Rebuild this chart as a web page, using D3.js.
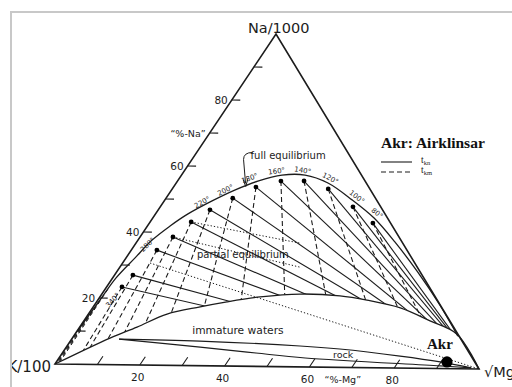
<!DOCTYPE html>
<html>
<head>
<meta charset="utf-8">
<script src="https://cdn.jsdelivr.net/npm/d3@7"></script>
<style>
  html, body { margin: 0; padding: 0; background: #fff; }
  svg { display: block; }
</style>
</head>
<body>
<svg id="chart" width="512" height="387"></svg>
<script>
// Na–K–Mg ternary diagram (Na/1000, K/100, √Mg) with the Airklinsar water.
// Every point is given as %Na and %Mg; %K = 100 − %Na − %Mg.

// full-equilibrium points (°C)
const eqTemps = [340, 320, 280, 260, 240, 220, 200, 180, 160, 140, 120, 100, 80];
const eqNa    = [23.4, 27.0, 34.6, 38.6, 43.2, 46.9, 50.5, 53.9, 55.8, 55.9, 53.6, 48.3, 43.5];
const eqMg    = [3.6, 4.3, 6.0, 7.7, 9.6, 12.1, 15.6, 19.3, 24.2, 29.6, 36.5, 45.1, 52.3];
const labelledTemps = [340, 280, 220, 200, 180, 160, 140, 120, 100, 80];

// full-equilibrium line
const fullEqNa = [10.3, 19.4, 26.1, 32.2, 37.6, 41.9, 45.6, 49.6, 53.0, 55.7, 57.6, 57.7, 55.4, 50.4, 45.0, 37.9, 28.9, 19.1, 9.8];
const fullEqMg = [0.1, 0.5, 0.8, 2.1, 3.3, 5.3, 7.6, 11.2, 14.9, 18.8, 23.5, 28.9, 35.5, 43.8, 51.8, 60.4, 70.5, 80.8, 89.9];

// upper limit of immature waters (partial-equilibrium boundary)
const immatureNa = [0, 8.0, 11.4, 15.4, 17.7, 19.3, 20.9, 21.9, 21.5, 20.3, 18.1, 14.3, 10.4, 0];
const immatureMg = [0, 8.8, 13.4, 18.4, 25.0, 30.5, 37.5, 46.4, 56.0, 63.0, 72.0, 81.0, 89.4, 100];

// rock dissolution field
const rockUpperNa = [7.7, 7.4, 6.3, 5.5, 3.6, 2.0, 0.3];
const rockUpperMg = [11.1, 30.3, 54.5, 64.3, 79.5, 89.8, 98.0];
const rockLowerNa = [7.7, 5.6, 4.0, 2.7, 0.8, 0.3];
const rockLowerMg = [11.1, 31.3, 45.3, 57.6, 90.4, 98.0];

// t_km isotherms above the last equilibrium point
const hotKmNa = [12.7, 16.1, 19.4, 22.7];
const hotKmMg = [0.2, 0.35, 0.5, 0.65];

// dotted guide lines: [start, end] as [%Na, %Mg]
const guideLines = [
  [[43.2, 9.6], [37.2, 38.4]],
  [[38.6, 7.7], [30.0, 42.1]],
  [[30.7, 6.4], [0, 100]]
];

// sample
const sampleName = "Akr";
const sampleNa = 2.0;
const sampleMg = 91.4;

// axes
const naTicks = [10, 20, 30, 40, 50, 60, 70, 80, 90];
const naTickLabels = [20, 40, 60, 80];
const mgTicks = [10, 20, 30, 40, 50, 60, 70, 80, 90];
const mgTickLabels = [20, 40, 60, 80];

// ---------------------------------------------------------------
const cornerK  = [55, 364];
const cornerMg = [479, 369];
const cornerNa = [276, 34];

const sMg = d3.scaleLinear().domain([0, 100]).range([0, 1]);
const sNa = d3.scaleLinear().domain([0, 100]).range([0, 1]);

function proj(na, mg) {
  const a = sMg(mg), b = sNa(na);
  return [
    cornerK[0] + a * (cornerMg[0] - cornerK[0]) + b * (cornerNa[0] - cornerK[0]),
    cornerK[1] + a * (cornerMg[1] - cornerK[1]) + b * (cornerNa[1] - cornerK[1])
  ];
}
const pts = (na, mg) => na.map((v, i) => proj(v, mg[i]));

const ink = "#1c1c1c";
const sans = "'DejaVu Sans', sans-serif";
const serif = "'Liberation Serif', 'Times New Roman', serif";

const svg = d3.select("#chart");
const defs = svg.append("defs");

defs.append("clipPath").attr("id", "frameClip")
  .append("rect").attr("x", 12).attr("y", 13).attr("width", 500).attr("height", 374);

const smooth = d3.line().curve(d3.curveCatmullRom.alpha(0.5));
const straight = d3.line();

const immaturePts = pts(immatureNa, immatureMg);
defs.append("clipPath").attr("id", "fieldClip")
  .append("path")
  .attr("d", smooth(immaturePts) + "L" + proj(100, 0).join(",") + "Z");

// scan border
svg.append("path")
  .attr("d", "M11,387V12H512")
  .attr("fill", "none").attr("stroke", "#c8c8c8").attr("stroke-width", 2);

const root = svg.append("g").attr("clip-path", "url(#frameClip)");

// triangle
root.append("path")
  .attr("d", straight([proj(0, 0), proj(100, 0), proj(0, 100)]) + "Z")
  .attr("fill", "none").attr("stroke", ink).attr("stroke-width", 1.6)
  .attr("stroke-linejoin", "miter");

// ticks
root.append("g").selectAll("path").data(naTicks).join("path")
  .attr("d", t => straight([proj(t, 0), proj(t, 2)]))
  .attr("stroke", ink).attr("stroke-width", 1.1);
root.append("g").selectAll("path").data(mgTicks).join("path")
  .attr("d", t => straight([proj(0, t), proj(2.5, t)]))
  .attr("stroke", ink).attr("stroke-width", 1.1);

root.append("g").selectAll("text").data(naTickLabels).join("text")
  .attr("x", t => proj(t, 0)[0] - 4)
  .attr("y", t => proj(t, 0)[1] + 4)
  .attr("text-anchor", "end")
  .attr("font-family", sans).attr("font-size", 10.5).attr("fill", ink)
  .text(t => t);
root.append("text")
  .attr("x", proj(70, 0)[0] - 4).attr("y", proj(70, 0)[1] + 3.5)
  .attr("text-anchor", "end")
  .attr("font-family", sans).attr("font-size", 9.5).attr("fill", ink)
  .text("\u201c%-Na\u201d");

root.append("g").selectAll("text").data(mgTickLabels).join("text")
  .attr("x", t => proj(0, t)[0] - 2)
  .attr("y", t => proj(0, t)[1] + 15.5)
  .attr("text-anchor", "middle")
  .attr("font-family", sans).attr("font-size", 10.5).attr("fill", ink)
  .text(t => t);
root.append("text")
  .attr("x", proj(0, 70)[0] - 9).attr("y", proj(0, 70)[1] + 15)
  .attr("text-anchor", "middle")
  .attr("font-family", sans).attr("font-size", 9.5).attr("fill", ink)
  .text("\u201c%-Mg\u201d");

// corner labels
root.append("text")
  .attr("x", proj(100, 0)[0] - 28).attr("y", proj(100, 0)[1] - 1)
  .attr("font-family", sans).attr("font-size", 14.5).attr("fill", ink)
  .text("Na/1000");
root.append("text")
  .attr("x", proj(0, 0)[0] - 4).attr("y", proj(0, 0)[1] + 8)
  .attr("text-anchor", "end")
  .attr("font-family", sans).attr("font-size", 15).attr("fill", ink)
  .text("K/100");
root.append("text")
  .attr("x", proj(0, 100)[0] + 5).attr("y", proj(0, 100)[1] + 8)
  .attr("font-family", sans).attr("font-size", 14.5).attr("fill", ink)
  .text("\u221AMg");

// isotherm grid
const eqPts = pts(eqNa, eqMg);
const grid = root.append("g").attr("clip-path", "url(#fieldClip)");

// t_kn: lines of constant Na/K, radiating from the √Mg corner
grid.append("g").selectAll("path").data(eqNa).join("path")
  .attr("d", (na, i) => straight([proj(na, eqMg[i]), proj(0, 100)]))
  .attr("fill", "none").attr("stroke", ink).attr("stroke-width", 1.1);

// t_km: lines of constant K/√Mg, radiating from the Na corner
const kmEnd = (na, mg) => proj(0, 100 * mg / (100 - na));
grid.append("g").selectAll("path").data(eqNa).join("path")
  .attr("d", (na, i) => straight([proj(na, eqMg[i]), kmEnd(na, eqMg[i])]))
  .attr("fill", "none").attr("stroke", ink).attr("stroke-width", 1.1)
  .attr("stroke-dasharray", "5,3");
grid.append("g").selectAll("path").data(hotKmNa).join("path")
  .attr("d", (na, i) => straight([proj(na, hotKmMg[i]), kmEnd(na, hotKmMg[i])]))
  .attr("fill", "none").attr("stroke", ink).attr("stroke-width", 1)
  .attr("stroke-dasharray", "4,3");

// dotted guides
root.append("g").selectAll("path").data(guideLines).join("path")
  .attr("d", g => straight(g.map(p => proj(p[0], p[1]))))
  .attr("fill", "none").attr("stroke", ink).attr("stroke-width", 1)
  .attr("stroke-dasharray", "1.3,2");

// full equilibrium line
root.append("path")
  .attr("d", smooth(pts(fullEqNa, fullEqMg)))
  .attr("fill", "none").attr("stroke", ink).attr("stroke-width", 1.3);

// immature-water boundary
root.append("path")
  .attr("d", smooth(immaturePts))
  .attr("fill", "none").attr("stroke", ink).attr("stroke-width", 1.3);

// rock field
root.append("path")
  .attr("d", smooth(pts(rockUpperNa, rockUpperMg)))
  .attr("fill", "none").attr("stroke", ink).attr("stroke-width", 1.1);
root.append("path")
  .attr("d", smooth(pts(rockLowerNa, rockLowerMg)))
  .attr("fill", "none").attr("stroke", ink).attr("stroke-width", 1.1);

// equilibrium points
root.append("g").selectAll("circle").data(eqPts).join("circle")
  .attr("cx", p => p[0]).attr("cy", p => p[1]).attr("r", 2.4).attr("fill", "#000");

// temperature labels, set along the curve just outside it
function labelPlace(i) {
  const a = eqPts[Math.max(0, i - 1)], b = eqPts[Math.min(eqPts.length - 1, i + 1)];
  const dx = b[0] - a[0], dy = b[1] - a[1], len = Math.hypot(dx, dy);
  const tx = dx / len, ty = dy / len;
  const nx = ty, ny = -tx;
  const p = eqPts[i];
  const off = i === 0 ? -2 : 10.5;
  const along = i === 0 ? -16 : -3;
  return {
    x: p[0] + nx * off + tx * along,
    y: p[1] + ny * off + ty * along,
    angle: Math.atan2(ty, tx) * 180 / Math.PI
  };
}
root.append("g").selectAll("text").data(labelledTemps).join("text")
  .each(function (t) {
    const pl = labelPlace(eqTemps.indexOf(t));
    d3.select(this)
      .attr("transform", `translate(${pl.x},${pl.y}) rotate(${pl.angle})`);
  })
  .attr("text-anchor", "middle").attr("dy", "0.35em")
  .attr("font-family", sans).attr("font-size", 7).attr("fill", ink)
  .text(t => t + "\u00B0");

// field labels
const tip = proj((fullEqNa[8] + fullEqNa[9]) / 2, (fullEqMg[8] + fullEqMg[9]) / 2);
root.append("path")
  .attr("d", `M${tip[0] + 6},${tip[1] - 33} Q${tip[0] - 3},${tip[1] - 33} ${tip[0] - 3},${tip[1] - 26} L${tip[0] - 1},${tip[1] - 2}`)
  .attr("fill", "none").attr("stroke", ink).attr("stroke-width", 1);
root.append("path")
  .attr("d", `M${tip[0] - 3.5},${tip[1] - 6} L${tip[0] - 0.8},${tip[1] + 1} L${tip[0] + 1.2},${tip[1] - 6.3}`)
  .attr("fill", "none").attr("stroke", ink).attr("stroke-width", 1);
root.append("text")
  .attr("x", tip[0] + 4).attr("y", tip[1] - 26)
  .attr("font-family", sans).attr("font-size", 10).attr("fill", ink)
  .text("full equilibrium");

const peAt = proj(32.4, 16.6);
root.append("text")
  .attr("x", peAt[0]).attr("y", peAt[1])
  .attr("font-family", sans).attr("font-size", 10).attr("fill", ink)
  .text("partial equilibrium");

const imAt = proj(9.5, 27.4);
root.append("text")
  .attr("x", imAt[0]).attr("y", imAt[1])
  .attr("font-family", sans).attr("font-size", 10.7).attr("fill", ink)
  .text("immature waters");

const rockAt = proj(2.8, 66.5);
root.append("text")
  .attr("x", rockAt[0]).attr("y", rockAt[1])
  .attr("text-anchor", "middle")
  .attr("font-family", sans).attr("font-size", 9.5).attr("fill", ink)
  .text("rock");

// sample
const sp = proj(sampleNa, sampleMg);
root.append("circle")
  .attr("cx", sp[0]).attr("cy", sp[1]).attr("r", 5.6).attr("fill", "#000");
root.append("text")
  .attr("x", sp[0] - 7).attr("y", sp[1] - 13)
  .attr("text-anchor", "middle")
  .attr("font-family", serif).attr("font-weight", "bold").attr("font-size", 15).attr("fill", "#111")
  .text(sampleName);

// legend
const lg = root.append("g").attr("transform", "translate(381,148)");
lg.append("text")
  .attr("x", 0).attr("y", 0)
  .attr("font-family", serif).attr("font-weight", "bold").attr("font-size", 15.5).attr("fill", "#111")
  .text("Akr: Airklinsar");
const legendRows = [
  { dash: null, sub: "kn", y: 14 },
  { dash: "5,3", sub: "km", y: 24 }
];
legendRows.forEach(r => {
  lg.append("line")
    .attr("x1", 0).attr("x2", 31).attr("y1", r.y).attr("y2", r.y)
    .attr("stroke", ink).attr("stroke-width", 1.1)
    .attr("stroke-dasharray", r.dash);
  const t = lg.append("text")
    .attr("x", 40).attr("y", r.y + 1)
    .attr("font-family", serif).attr("font-size", 9.5).attr("fill", ink);
  t.append("tspan").text("t");
  t.append("tspan").attr("dy", 1.5).attr("font-size", 6.5).text(r.sub);
});
</script>
</body>
</html>
